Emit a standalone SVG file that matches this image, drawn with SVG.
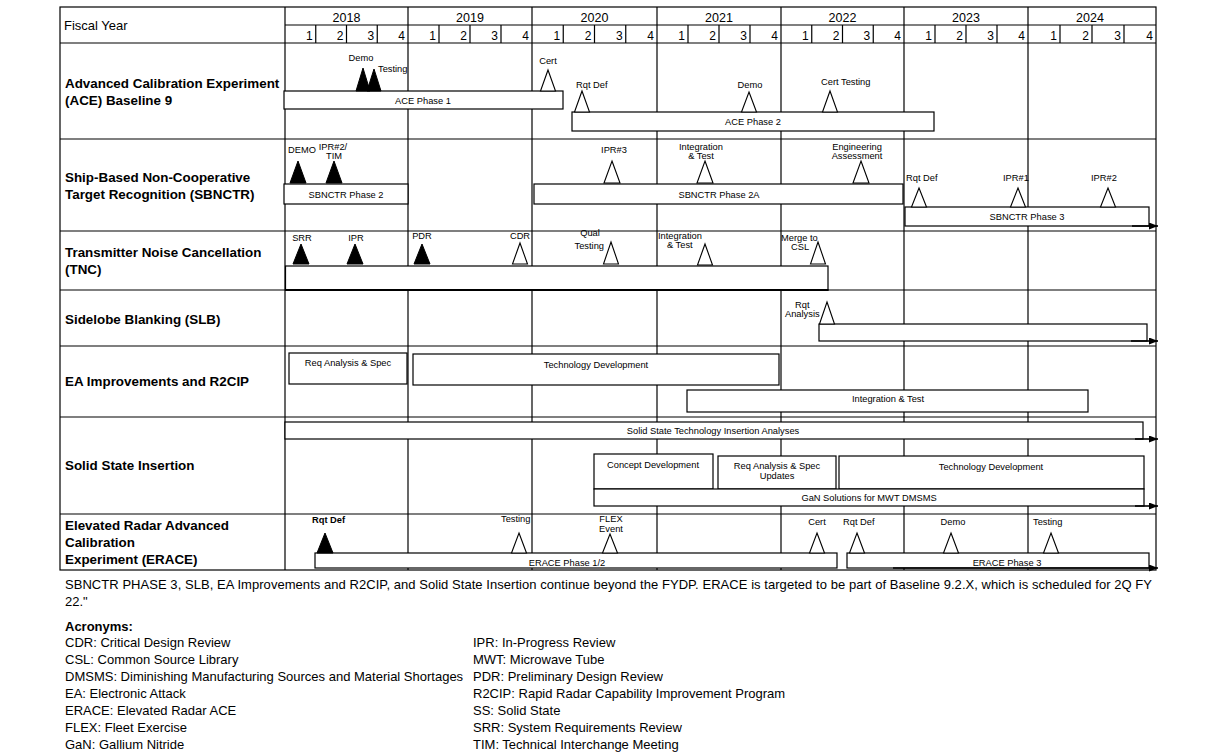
<svg xmlns="http://www.w3.org/2000/svg" width="1214" height="754" viewBox="0 0 1214 754">
<defs>
<style>
text{font-family:"Liberation Sans",Arial,Helvetica,sans-serif;fill:#000}
.g{stroke:#000;stroke-width:1.2;fill:none}
.bar{fill:#fff;stroke:#000;stroke-width:1.2}
.mo{fill:#fff;stroke:#000;stroke-width:1.1}
.mf{fill:#000;stroke:#000;stroke-width:1}
.s{font-size:9.3px}
.c{text-anchor:middle}
.e{text-anchor:end}
.lbl{font-size:13.4px;font-weight:bold}
.hd{font-size:13px}
.yr{font-size:12.5px;text-anchor:middle}
.q{font-size:12px;text-anchor:end}
.n{font-size:13px}
.arrow{stroke:#000;stroke-width:1.6;fill:none}
</style>
<marker id="arr" markerWidth="9" markerHeight="7" refX="9" refY="3.5" orient="auto" markerUnits="userSpaceOnUse"><path d="M0,0 L9,3.5 L0,7 Z" fill="#000"/></marker>
</defs>
<rect width="1214" height="754" fill="#fff"/>

<g id="grid" class="g">
<rect x="60" y="7" width="1096" height="563"/>
<line x1="285" y1="25" x2="1156" y2="25"/>
<line x1="60" y1="43" x2="1156" y2="43"/>
<line x1="60" y1="139" x2="1156" y2="139"/>
<line x1="60" y1="231" x2="1156" y2="231"/>
<line x1="60" y1="290" x2="1156" y2="290"/>
<line x1="60" y1="346" x2="1156" y2="346"/>
<line x1="60" y1="417" x2="1156" y2="417"/>
<line x1="60" y1="514" x2="1156" y2="514"/>
<line x1="285" y1="7" x2="285" y2="570"/>
<line x1="408" y1="7" x2="408" y2="570"/>
<line x1="532" y1="7" x2="532" y2="570"/>
<line x1="657" y1="7" x2="657" y2="570"/>
<line x1="781" y1="7" x2="781" y2="570"/>
<line x1="904" y1="7" x2="904" y2="570"/>
<line x1="1028" y1="7" x2="1028" y2="570"/>
<path d="M315.75,25V43M346.5,25V43M377.25,25V43M439,25V43M470,25V43M501,25V43M563.25,25V43M594.5,25V43M625.75,25V43M688,25V43M719,25V43M750,25V43M811.75,25V43M842.5,25V43M873.25,25V43M935,25V43M966,25V43M997,25V43M1060,25V43M1092,25V43M1124,25V43"/>
</g>

<g id="header">
<text class="hd" x="64" y="29.5">Fiscal Year</text>
<text class="yr" x="346.5" y="21.5">2018</text>
<text class="yr" x="470" y="21.5">2019</text>
<text class="yr" x="594.5" y="21.5">2020</text>
<text class="yr" x="719" y="21.5">2021</text>
<text class="yr" x="842.5" y="21.5">2022</text>
<text class="yr" x="966" y="21.5">2023</text>
<text class="yr" x="1090" y="21.5">2024</text>
<text class="q" x="312.75" y="39.5">1</text><text class="q" x="343.5" y="39.5">2</text><text class="q" x="374.25" y="39.5">3</text><text class="q" x="405" y="39.5">4</text>
<text class="q" x="436" y="39.5">1</text><text class="q" x="467" y="39.5">2</text><text class="q" x="498" y="39.5">3</text><text class="q" x="529" y="39.5">4</text>
<text class="q" x="560.25" y="39.5">1</text><text class="q" x="591.5" y="39.5">2</text><text class="q" x="622.75" y="39.5">3</text><text class="q" x="654" y="39.5">4</text>
<text class="q" x="685" y="39.5">1</text><text class="q" x="716" y="39.5">2</text><text class="q" x="747" y="39.5">3</text><text class="q" x="778" y="39.5">4</text>
<text class="q" x="808.75" y="39.5">1</text><text class="q" x="839.5" y="39.5">2</text><text class="q" x="870.25" y="39.5">3</text><text class="q" x="901" y="39.5">4</text>
<text class="q" x="932" y="39.5">1</text><text class="q" x="963" y="39.5">2</text><text class="q" x="994" y="39.5">3</text><text class="q" x="1025" y="39.5">4</text>
<text class="q" x="1057" y="39.5">1</text><text class="q" x="1089" y="39.5">2</text><text class="q" x="1121" y="39.5">3</text><text class="q" x="1153" y="39.5">4</text>
</g>

<g id="row-labels">
<text class="lbl" x="65" y="88">Advanced Calibration Experiment</text>
<text class="lbl" x="65" y="105">(ACE) Baseline 9</text>
<text class="lbl" x="65" y="182">Ship-Based Non-Cooperative</text>
<text class="lbl" x="65" y="199">Target Recognition (SBNCTR)</text>
<text class="lbl" x="65" y="257">Transmitter Noise Cancellation</text>
<text class="lbl" x="65" y="274">(TNC)</text>
<text class="lbl" x="65" y="324">Sidelobe Blanking (SLB)</text>
<text class="lbl" x="65" y="386">EA Improvements and R2CIP</text>
<text class="lbl" x="65" y="470">Solid State Insertion</text>
<text class="lbl" x="65" y="530">Elevated Radar Advanced</text>
<text class="lbl" x="65" y="547">Calibration</text>
<text class="lbl" x="65" y="564">Experiment (ERACE)</text>
</g>

<!-- ACE row -->
<g id="ace-phase1"><rect class="bar" x="284" y="91" width="279" height="18"/><text class="s c" x="423" y="103.5">ACE Phase 1</text></g>
<g id="ace-phase2"><rect class="bar" x="572" y="112" width="362" height="19"/><text class="s c" x="753" y="125">ACE Phase 2</text></g>
<g id="ace-demo"><polygon class="mf" points="363,68 370,91 356,91"/><text class="s c" x="361" y="61">Demo</text></g>
<g id="ace-testing"><polygon class="mf" points="374,69 381,91 367,91"/><text class="s" x="378" y="72">Testing</text></g>
<g id="ace-cert"><polygon class="mo" points="548,70 555.5,91 540.5,91"/><text class="s c" x="548" y="64">Cert</text></g>
<g id="ace-rqtdef"><polygon class="mo" points="582,91 589.5,112 574.5,112"/><text class="s" x="576" y="88">Rqt Def</text></g>
<g id="ace-demo2"><polygon class="mo" points="749,92 756.5,112 741.5,112"/><text class="s c" x="750" y="88">Demo</text></g>
<g id="ace-certtesting"><polygon class="mo" points="830,91 837.5,112 822.5,112"/><text class="s" x="821" y="85">Cert Testing</text></g>

<!-- SBNCTR row -->
<g id="sb-phase2"><rect class="bar" x="284" y="184" width="124" height="20"/><text class="s c" x="346" y="197.5">SBNCTR Phase 2</text></g>
<g id="sb-phase2a"><rect class="bar" x="534" y="184" width="369" height="20"/><text class="s c" x="719" y="197.5">SBNCTR Phase 2A</text></g>
<g id="sb-phase3"><rect class="bar" x="905" y="207" width="244" height="19"/><text class="s c" x="1027" y="220">SBNCTR Phase 3</text></g>
<g id="sb-demo"><polygon class="mf" points="298,161 306,183 290,183"/><text class="s" x="288" y="153">DEMO</text></g>
<g id="sb-ipr2"><polygon class="mf" points="334,161 342,183 326,183"/><text class="s c" x="333" y="150">IPR#2/</text><text class="s c" x="334" y="159">TIM</text></g>
<g id="sb-ipr3"><polygon class="mo" points="612,161 620,183 604,183"/><text class="s c" x="614" y="153">IPR#3</text></g>
<g id="sb-int"><polygon class="mo" points="705,161 713,183 697,183"/><text class="s c" x="701" y="150">Integration</text><text class="s c" x="701" y="159">&amp; Test</text></g>
<g id="sb-eng"><polygon class="mo" points="861,161 869,183 853,183"/><text class="s c" x="857" y="150">Engineering</text><text class="s c" x="857" y="159">Assessment</text></g>
<g id="sb-rqtdef"><polygon class="mo" points="919,188 926.5,207 911.5,207"/><text class="s" x="906" y="181">Rqt Def</text></g>
<g id="sb-ipr1"><polygon class="mo" points="1018,188 1025.5,207 1010.5,207"/><text class="s" x="1003" y="181">IPR#1</text></g>
<g id="sb-ipr2b"><polygon class="mo" points="1108,188 1115.5,207 1100.5,207"/><text class="s" x="1091" y="181">IPR#2</text></g>

<!-- TNC row -->
<g id="tnc-bar"><rect class="bar" x="285.5" y="266" width="542.5" height="24" stroke-width="1.4"/><line x1="285" y1="290" x2="828.5" y2="290" stroke="#000" stroke-width="2.2"/></g>
<g id="tnc-srr"><polygon class="mf" points="301,244 309,264 293,264"/><text class="s c" x="302" y="241">SRR</text></g>
<g id="tnc-ipr"><polygon class="mf" points="355,244 363,264 347,264"/><text class="s c" x="356" y="241">IPR</text></g>
<g id="tnc-pdr"><polygon class="mf" points="422,244 430,264 414,264"/><text class="s c" x="422" y="239">PDR</text></g>
<g id="tnc-cdr"><polygon class="mo" points="520,243 527.5,264 512.5,264"/><text class="s c" x="520" y="239">CDR</text></g>
<g id="tnc-qual"><polygon class="mo" points="611,242 618.5,264 603.5,264"/><text class="s c" x="590" y="236">Qual</text><text class="s e" x="604" y="249">Testing</text></g>
<g id="tnc-int"><polygon class="mo" points="705,244 712.5,265 697.5,265"/><text class="s" x="658" y="239">Integration</text><text class="s" x="667" y="248">&amp; Test</text></g>
<g id="tnc-merge"><polygon class="mo" points="818,242 825.5,264 810.5,264"/><text class="s" x="781" y="241">Merge to</text><text class="s" x="791" y="250">CSL</text></g>

<!-- SLB row -->
<g id="slb-bar"><rect class="bar" x="819" y="324" width="328" height="17"/></g>
<g id="slb-rqt"><polygon class="mo" points="827,302 834.5,324 819.5,324"/><text class="s" x="795" y="308">Rqt</text><text class="s" x="785" y="317">Analysis</text></g>

<!-- EA row -->
<g id="ea-req"><rect class="bar" x="289" y="353" width="118" height="31"/><text class="s c" x="348" y="366">Req Analysis &amp; Spec</text></g>
<g id="ea-tech"><rect class="bar" x="413" y="354" width="366" height="31"/><text class="s c" x="596" y="368">Technology Development</text></g>
<g id="ea-int"><rect class="bar" x="687" y="390" width="401" height="22"/><text class="s c" x="888" y="402">Integration &amp; Test</text></g>

<!-- Solid State row -->
<g id="ss-analyses"><rect class="bar" x="285" y="422" width="858" height="17"/><text class="s c" x="713" y="434">Solid State Technology Insertion Analyses</text></g>
<g id="ss-concept"><rect class="bar" x="594" y="454" width="119" height="35"/><text class="s c" x="653" y="468">Concept Development</text></g>
<g id="ss-req"><rect class="bar" x="718" y="456" width="118" height="33"/><text class="s c" x="777" y="469">Req Analysis &amp; Spec</text><text class="s c" x="777" y="479">Updates</text></g>
<g id="ss-tech"><rect class="bar" x="839" y="456" width="305" height="33"/><text class="s c" x="991" y="470">Technology Development</text></g>
<g id="ss-gan"><rect class="bar" x="594" y="489" width="550" height="17"/><text class="s c" x="869" y="501">GaN Solutions for MWT DMSMS</text></g>

<!-- ERACE row -->
<g id="er-phase12"><rect class="bar" x="315" y="553" width="522" height="15"/><text class="s c" x="567" y="566">ERACE Phase 1/2</text></g>
<g id="er-phase3"><rect class="bar" x="847" y="553" width="302" height="15"/><text class="s c" x="1007" y="566">ERACE Phase 3</text></g>
<g id="er-rqtdef"><polygon class="mf" points="325,533 333,553 317,553"/><text class="s" x="312" y="523" font-weight="bold">Rqt Def</text></g>
<g id="er-testing"><polygon class="mo" points="519,533 526.5,553 511.5,553"/><text class="s" x="501" y="522">Testing</text></g>
<g id="er-flex"><polygon class="mo" points="610,534 617.5,553 602.5,553"/><text class="s c" x="611" y="522">FLEX</text><text class="s c" x="611" y="532">Event</text></g>
<g id="er-cert"><polygon class="mo" points="817,533 824.5,553 809.5,553"/><text class="s c" x="817" y="525">Cert</text></g>
<g id="er-rqtdef2"><polygon class="mo" points="857,533 864.5,553 849.5,553"/><text class="s" x="843" y="525">Rqt Def</text></g>
<g id="er-demo"><polygon class="mo" points="951,533 958.5,553 943.5,553"/><text class="s c" x="953" y="525">Demo</text></g>
<g id="er-testing2"><polygon class="mo" points="1051,533 1058.5,553 1043.5,553"/><text class="s" x="1033" y="525">Testing</text></g>

<g id="connectors">
<line class="arrow" x1="1132" y1="226" x2="1158" y2="226" marker-end="url(#arr)"/>
<line class="arrow" x1="1131" y1="341" x2="1158" y2="341" marker-end="url(#arr)"/>
<line class="arrow" x1="1135" y1="439" x2="1158" y2="439" marker-end="url(#arr)"/>
<line class="arrow" x1="1135" y1="506" x2="1158" y2="506" marker-end="url(#arr)"/>
<line class="arrow" x1="893" y1="568" x2="1158" y2="568" marker-end="url(#arr)"/>
</g>

<g id="notes">
<text class="n" x="65" y="589" textLength="1087" lengthAdjust="spacing">SBNCTR PHASE 3, SLB, EA Improvements and R2CIP, and Solid State Insertion continue beyond the FYDP. ERACE is targeted to be part of Baseline 9.2.X, which is scheduled for 2Q FY</text>
<text class="n" x="65" y="606">22."</text>
<text class="n" x="65" y="631" font-weight="bold">Acronyms:</text>
<text class="n" x="65" y="647">CDR: Critical Design Review</text>
<text class="n" x="65" y="664">CSL: Common Source Library</text>
<text class="n" x="65" y="681">DMSMS: Diminishing Manufacturing Sources and Material Shortages</text>
<text class="n" x="65" y="698">EA: Electronic Attack</text>
<text class="n" x="65" y="715">ERACE: Elevated Radar ACE</text>
<text class="n" x="65" y="732">FLEX: Fleet Exercise</text>
<text class="n" x="65" y="749">GaN: Gallium Nitride</text>
<text class="n" x="473" y="647">IPR: In-Progress Review</text>
<text class="n" x="473" y="664">MWT: Microwave Tube</text>
<text class="n" x="473" y="681">PDR: Preliminary Design Review</text>
<text class="n" x="473" y="698">R2CIP: Rapid Radar Capability Improvement Program</text>
<text class="n" x="473" y="715">SS: Solid State</text>
<text class="n" x="473" y="732">SRR: System Requirements Review</text>
<text class="n" x="473" y="749">TIM: Technical Interchange Meeting</text>
</g>
</svg>
